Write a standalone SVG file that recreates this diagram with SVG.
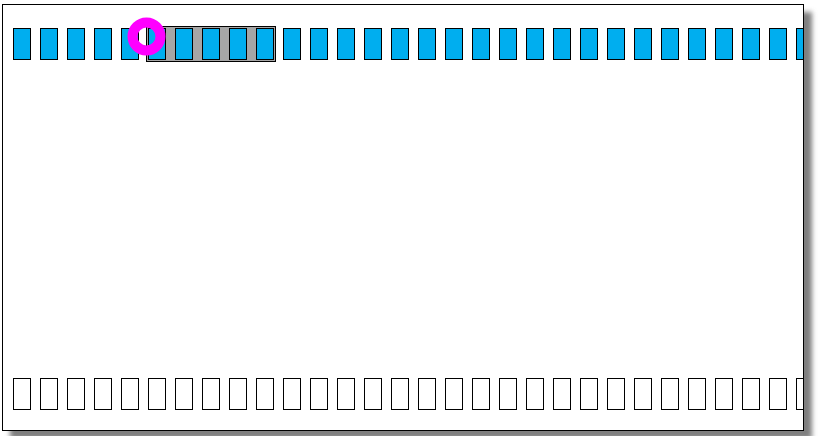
<svg xmlns="http://www.w3.org/2000/svg" width="818" height="436" viewBox="0 0 818 436">
<defs>
<filter id="blur" x="-5%" y="-5%" width="110%" height="110%"><feGaussianBlur stdDeviation="2.5"/></filter>
<clipPath id="clip"><rect x="3" y="5" width="800" height="425"/></clipPath>
<style>
.slot{fill:#00aeef;stroke:#000;stroke-width:1}
.empty{fill:#fff;stroke:#000;stroke-width:1}
</style>
</defs>
<rect x="10" y="12" width="802" height="427" fill="#7f7f7f" filter="url(#blur)"/>
<rect id="frame" x="2.5" y="4.5" width="801" height="426" fill="#fff" stroke="#000" stroke-width="1"/>
<g clip-path="url(#clip)">
<g id="top-row">
<rect x="146.5" y="26.5" width="129" height="35" fill="#a6a6a6" stroke="#000"/>
<rect class="slot" x="13.5" y="28.5" width="17" height="31"/>
<rect class="slot" x="40.5" y="28.5" width="17" height="31"/>
<rect class="slot" x="67.5" y="28.5" width="17" height="31"/>
<rect class="slot" x="94.5" y="28.5" width="17" height="31"/>
<rect class="slot" x="121.5" y="28.5" width="17" height="31"/>
<rect class="slot" x="148.5" y="28.5" width="17" height="31"/>
<rect class="slot" x="175.5" y="28.5" width="17" height="31"/>
<rect class="slot" x="202.5" y="28.5" width="17" height="31"/>
<rect class="slot" x="229.5" y="28.5" width="17" height="31"/>
<rect class="slot" x="256.5" y="28.5" width="17" height="31"/>
<rect class="slot" x="283.5" y="28.5" width="17" height="31"/>
<rect class="slot" x="310.5" y="28.5" width="17" height="31"/>
<rect class="slot" x="337.5" y="28.5" width="17" height="31"/>
<rect class="slot" x="364.5" y="28.5" width="17" height="31"/>
<rect class="slot" x="391.5" y="28.5" width="17" height="31"/>
<rect class="slot" x="418.5" y="28.5" width="17" height="31"/>
<rect class="slot" x="445.5" y="28.5" width="17" height="31"/>
<rect class="slot" x="472.5" y="28.5" width="17" height="31"/>
<rect class="slot" x="499.5" y="28.5" width="17" height="31"/>
<rect class="slot" x="526.5" y="28.5" width="17" height="31"/>
<rect class="slot" x="553.5" y="28.5" width="17" height="31"/>
<rect class="slot" x="580.5" y="28.5" width="17" height="31"/>
<rect class="slot" x="607.5" y="28.5" width="17" height="31"/>
<rect class="slot" x="634.5" y="28.5" width="17" height="31"/>
<rect class="slot" x="661.5" y="28.5" width="17" height="31"/>
<rect class="slot" x="688.5" y="28.5" width="17" height="31"/>
<rect class="slot" x="715.5" y="28.5" width="17" height="31"/>
<rect class="slot" x="742.5" y="28.5" width="17" height="31"/>
<rect class="slot" x="769.5" y="28.5" width="17" height="31"/>
<rect class="slot" x="796.5" y="28.5" width="17" height="31"/>
</g>
<g id="bottom-row">
<rect class="empty" x="13.5" y="378.5" width="17" height="31"/>
<rect class="empty" x="40.5" y="378.5" width="17" height="31"/>
<rect class="empty" x="67.5" y="378.5" width="17" height="31"/>
<rect class="empty" x="94.5" y="378.5" width="17" height="31"/>
<rect class="empty" x="121.5" y="378.5" width="17" height="31"/>
<rect class="empty" x="148.5" y="378.5" width="17" height="31"/>
<rect class="empty" x="175.5" y="378.5" width="17" height="31"/>
<rect class="empty" x="202.5" y="378.5" width="17" height="31"/>
<rect class="empty" x="229.5" y="378.5" width="17" height="31"/>
<rect class="empty" x="256.5" y="378.5" width="17" height="31"/>
<rect class="empty" x="283.5" y="378.5" width="17" height="31"/>
<rect class="empty" x="310.5" y="378.5" width="17" height="31"/>
<rect class="empty" x="337.5" y="378.5" width="17" height="31"/>
<rect class="empty" x="364.5" y="378.5" width="17" height="31"/>
<rect class="empty" x="391.5" y="378.5" width="17" height="31"/>
<rect class="empty" x="418.5" y="378.5" width="17" height="31"/>
<rect class="empty" x="445.5" y="378.5" width="17" height="31"/>
<rect class="empty" x="472.5" y="378.5" width="17" height="31"/>
<rect class="empty" x="499.5" y="378.5" width="17" height="31"/>
<rect class="empty" x="526.5" y="378.5" width="17" height="31"/>
<rect class="empty" x="553.5" y="378.5" width="17" height="31"/>
<rect class="empty" x="580.5" y="378.5" width="17" height="31"/>
<rect class="empty" x="607.5" y="378.5" width="17" height="31"/>
<rect class="empty" x="634.5" y="378.5" width="17" height="31"/>
<rect class="empty" x="661.5" y="378.5" width="17" height="31"/>
<rect class="empty" x="688.5" y="378.5" width="17" height="31"/>
<rect class="empty" x="715.5" y="378.5" width="17" height="31"/>
<rect class="empty" x="742.5" y="378.5" width="17" height="31"/>
<rect class="empty" x="769.5" y="378.5" width="17" height="31"/>
<rect class="empty" x="796.5" y="378.5" width="17" height="31"/>
</g>
</g>
<g id="marker">
<circle cx="146.5" cy="36.5" r="14" fill="none" stroke="#ff00ff" stroke-width="10"/>
</g>
</svg>
